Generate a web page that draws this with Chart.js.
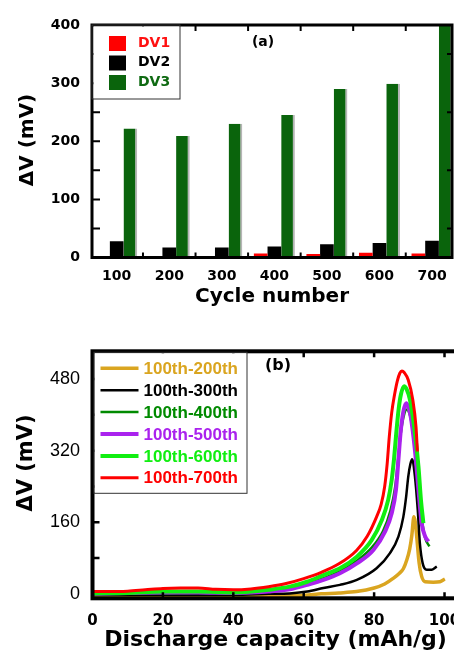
<!DOCTYPE html>
<html>
<head>
<meta charset="utf-8">
<script src="https://cdn.jsdelivr.net/npm/chart.js@4.4.1/dist/chart.umd.min.js"></script>
<style>
  html, body { margin: 0; padding: 0; background: #fff; overflow: hidden; }
  #wrap { position: relative; width: 454px; height: 654px; overflow: hidden; }
  #chartA { position: absolute; left: 0; top: 0; }
  #chartB { position: absolute; left: 0; top: 320px; }
</style>
</head>
<body>
<div id="wrap">
  <canvas id="chartA" width="472" height="320"></canvas>
  <canvas id="chartB" width="490" height="334"></canvas>
</div>
<script>
// (a) voltage gaps per cycle
const cycles = [100, 200, 300, 400, 500, 600, 700];
const dv1 = [0, 2, 2, 7, 6, 8, 7];
const dv2 = [28, 17, 17, 19, 23, 25, 29];
const dv3 = [222, 209, 230, 245, 290, 299, 400];
const yTicksA = [0, 100, 200, 300, 400];

// (b) dV vs discharge capacity
const cap200 = [0, 20, 40, 50, 60, 65, 70, 75, 80, 83, 85.5, 87.2, 88.3, 89.3, 90.1, 90.7, 91.3, 91.7, 92.1, 92.8, 93.5, 94.5, 96.8, 98.7, 100.1];
const dv200 = [-5, -5, -5, -4, -3, 0, 2, 5, 13, 22, 35, 46, 56, 76, 100, 130, 172, 160, 128, 68, 39, 27, 26, 27, 33];
const cap300 = [0, 20, 40, 50, 56, 61, 65.6, 70.3, 75.1, 80.7, 84.5, 86.9, 88.3, 89.1, 89.7, 90.3, 90.8, 91.6, 92.4, 93, 93.8, 94.9, 96.4, 97.8];
const dv300 = [-2, -2, -2, 0, 1, 5, 13, 20, 31, 57, 91, 128, 172, 217, 262, 290, 301, 262, 187, 113, 68, 54, 54, 61];
const cap400 = [0, 20, 30, 40, 45, 50, 56, 61, 65.6, 70.3, 75.1, 79.5, 82.5, 84.6, 86, 86.8, 87.6, 88.5, 89.3, 90, 90.8, 91.8, 92.8, 93.6, 94.5, 95.7];
const dv400 = [0, 1, 2, 1, 2, 6, 12, 22, 35, 50, 74, 105, 140, 185, 240, 300, 360, 400, 412, 404, 375, 310, 230, 165, 125, 106];
const cap500 = [0, 20, 30, 40, 45, 50, 56, 61, 65.6, 70.3, 75.1, 79.8, 83.1, 85, 86.2, 86.9, 87.5, 88.3, 89.1, 89.7, 90.4, 91.6, 92.6, 93.5, 94.5, 95.4];
const dv500 = [0, 3, 3, 2, 3, 5, 10, 20, 31, 46, 68, 98, 139, 180, 232, 299, 359, 407, 426, 418, 396, 321, 232, 158, 128, 117];
const cap600 = [0, 10, 20, 30, 40, 45, 50, 56, 61, 65.6, 70.3, 75.1, 79.3, 82.2, 84, 85, 85.7, 86.3, 87, 87.6, 88.5, 89.2, 90.2, 91.6, 92.6, 93.3, 94];
const dv600 = [1, 2, 5, 5, 3, 5, 9, 16, 27, 42, 57, 83, 120, 165, 210, 255, 305, 360, 415, 445, 464, 458, 433, 359, 284, 210, 158];
const cap700 = [0, 10, 15, 20, 25, 30, 35, 40, 45, 50, 55, 60, 65, 70, 75, 78, 80.7, 82, 83, 83.7, 84.3, 85, 85.8, 86.6, 87.3, 87.9, 88.6, 89.7, 91, 91.9, 92.3];
const dv700 = [5, 6, 9, 12, 13, 13, 10, 9, 11, 16, 23, 34, 48, 67, 97, 128, 172, 200, 240, 290, 350, 405, 445, 476, 493, 498, 494, 478, 433, 373, 318];
const xTicksB = [0, 20, 40, 60, 80, 100];
const yTicksB = [0, 160, 320, 480];

const BOLD = 'DejaVu Sans';
Chart.defaults.color = '#000';
Chart.defaults.animation = false;

function pts(xs, ys) {
  return xs.map((x, i) => ({ x: x, y: ys[i] }));
}

function sideTitle(ctx, text, x, y, size) {
  ctx.save();
  ctx.translate(x, y);
  ctx.rotate(-Math.PI / 2);
  ctx.font = 'bold ' + size + 'px "' + BOLD + '"';
  ctx.fillStyle = '#000';
  ctx.textAlign = 'center';
  ctx.textBaseline = 'middle';
  ctx.fillText(text, 0, 0);
  ctx.restore();
}

// frame, inward ticks and boxed legend for (a)
const decorA = {
  id: 'decorA',
  afterDraw(chart) {
    const { ctx, chartArea: a, scales: { x, y } } = chart;
    ctx.save();
    ctx.strokeStyle = '#000';
    ctx.lineWidth = 2;
    ctx.beginPath();
    for (let v = 50; v < 400; v += 50) {
      const py = y.getPixelForValue(v);
      ctx.moveTo(a.left, py); ctx.lineTo(a.left + 8, py);
      if (v % 100) { ctx.moveTo(a.right, py); ctx.lineTo(a.right - 5, py); }
    }
    for (let v = 150; v < 700; v += 100) {
      const px = x.getPixelForValue(v);
      ctx.moveTo(px, a.top); ctx.lineTo(px, a.top + 6);
      ctx.moveTo(px, a.bottom); ctx.lineTo(px, a.bottom - 5);
    }
    ctx.stroke();
    ctx.lineWidth = 3;
    ctx.strokeRect(a.left, a.top, a.width, a.height);

    // legend box
    ctx.fillStyle = '#fff';
    ctx.fillRect(a.left + 1.5, a.top + 1.5, 86, 72);
    ctx.lineWidth = 1;
    ctx.strokeStyle = '#333';
    ctx.strokeRect(a.left, a.top, 88, 74);
    ctx.font = 'bold 14px "' + BOLD + '"';
    ctx.textBaseline = 'middle';
    chart.data.datasets.forEach((ds, i) => {
      const cy = a.top + 18 + i * 19.5;
      ctx.fillStyle = ds.backgroundColor;
      ctx.fillRect(a.left + 17, cy - 7, 17, 15);
      ctx.fillStyle = ds.labelColor;
      ctx.fillText(ds.label, a.left + 46, cy);
    });
    ctx.fillStyle = '#000';
    ctx.textAlign = 'center';
    ctx.fillText('(a)', 263, 42);
    ctx.restore();
    sideTitle(ctx, 'ΔV (mV)', 28, 140, 20);
  }
};

// frame, inward ticks and boxed legend for (b)
const decorB = {
  id: 'decorB',
  afterDraw(chart) {
    const { ctx, chartArea: a, scales: { x, y } } = chart;
    ctx.save();
    ctx.strokeStyle = '#000';
    ctx.lineWidth = 2.5;
    ctx.beginPath();
    for (let v = 80; v < 540; v += 80) {
      const py = y.getPixelForValue(v);
      ctx.moveTo(a.left, py); ctx.lineTo(a.left + 7, py);
    }
    for (let v = 20; v <= 100; v += 20) {
      const px = x.getPixelForValue(v);
      ctx.moveTo(px, a.top); ctx.lineTo(px, a.top + 6);
      ctx.moveTo(px, a.bottom); ctx.lineTo(px, a.bottom - 6);
    }
    ctx.stroke();
    ctx.lineWidth = 4;
    ctx.strokeRect(a.left, a.top, a.width, a.height);

    // legend box
    ctx.fillStyle = '#fff';
    ctx.fillRect(a.left + 2, a.top + 2, 152, 139);
    ctx.lineWidth = 1;
    ctx.strokeStyle = '#333';
    ctx.strokeRect(a.left + 1.5, a.top + 1, 153, 141);
    ctx.font = 'bold 17px "Liberation Sans"';
    ctx.textBaseline = 'middle';
    chart.data.datasets.forEach((ds, i) => {
      const cy = a.top + 17 + i * 21.9;
      ctx.strokeStyle = ds.borderColor;
      ctx.lineWidth = ds.borderWidth;
      ctx.beginPath();
      ctx.moveTo(a.left + 8, cy); ctx.lineTo(a.left + 46, cy);
      ctx.stroke();
      ctx.fillStyle = ds.borderColor;
      ctx.fillText(ds.label, a.left + 51, cy + 1);
    });
    ctx.fillStyle = '#000';
    ctx.textAlign = 'center';
    ctx.font = 'bold 16px "' + BOLD + '"';
    ctx.fillText('(b)', 278, 46);
    ctx.restore();
    sideTitle(ctx, 'ΔV (mV)', 27, 143, 21);
  }
};

new Chart(document.getElementById('chartA'), {
  type: 'bar',
  data: {
    datasets: [
      { label: 'DV1', data: pts(cycles, dv1), backgroundColor: '#ff0000', labelColor: '#ff1010' },
      { label: 'DV2', data: pts(cycles, dv2), backgroundColor: '#000000', labelColor: '#000000' },
      { label: 'DV3', data: pts(cycles, dv3), backgroundColor: '#0a640c', labelColor: '#0f6a12',
        borderColor: '#b5b5b5', borderWidth: { top: 0, left: 0, bottom: 0, right: 2 } }
    ]
  },
  options: {
    responsive: false,
    categoryPercentage: 0.78,
    barPercentage: 1,
    layout: { padding: { left: 0, right: 20, top: 25, bottom: 0 } },
    plugins: { legend: { display: false }, tooltip: { enabled: false } },
    scales: {
      x: {
        type: 'linear', min: 53, max: 738, offset: false,
        grid: { display: false, drawTicks: false, offset: false },
        border: { display: false },
        afterBuildTicks: s => { s.ticks = cycles.map(v => ({ value: v })); },
        afterFit: s => { s.height = 62.5; },
        ticks: { padding: 10, font: { family: BOLD, size: 14, weight: 'bold' } },
        title: { display: true, text: 'Cycle number', padding: { top: 0, bottom: 11 },
                 font: { family: BOLD, size: 20, weight: 'bold' } }
      },
      y: {
        min: 0, max: 400,
        grid: { display: false, drawTicks: false },
        border: { display: false },
        afterBuildTicks: s => { s.ticks = yTicksA.map(v => ({ value: v })); },
        afterFit: s => { s.width = 92; },
        ticks: { padding: 12, font: { family: BOLD, size: 14, weight: 'bold' } }
      }
    }
  },
  plugins: [decorA]
});

const series = [
  { label: '100th-200th', cap: cap200, dv: dv200, color: '#daa520', width: 3.5 },
  { label: '100th-300th', cap: cap300, dv: dv300, color: '#000000', width: 2.5 },
  { label: '100th-400th', cap: cap400, dv: dv400, color: '#008a00', width: 2.5 },
  { label: '100th-500th', cap: cap500, dv: dv500, color: '#aa22ee', width: 4 },
  { label: '100th-600th', cap: cap600, dv: dv600, color: '#11ee11', width: 4 },
  { label: '100th-700th', cap: cap700, dv: dv700, color: '#ff0000', width: 3 }
];

new Chart(document.getElementById('chartB'), {
  type: 'line',
  data: {
    datasets: series.map((s, i) => ({
      label: s.label,
      data: pts(s.cap, s.dv),
      borderColor: s.color,
      borderWidth: s.width,
      pointRadius: 0,
      cubicInterpolationMode: 'monotone',
      order: 6 - i
    }))
  },
  options: {
    responsive: false,
    layout: { padding: { left: 0, right: 31.4, top: 31.3, bottom: 0 } },
    plugins: { legend: { display: false }, tooltip: { enabled: false } },
    scales: {
      x: {
        type: 'linear', min: 0, max: 104,
        grid: { display: false, drawTicks: false },
        border: { display: false },
        afterBuildTicks: s => { s.ticks = xTicksB.map(v => ({ value: v })); },
        afterFit: s => { s.height = 55.7; },
        ticks: { padding: 14, font: { family: BOLD, size: 15, weight: 'bold' } },
        title: { display: true, text: 'Discharge capacity (mAh/g)', padding: { top: 0, bottom: 1 },
                 font: { family: BOLD, size: 22, weight: 'bold' } }
      },
      y: {
        min: -10, max: 542,
        grid: { display: false, drawTicks: false },
        border: { display: false },
        afterBuildTicks: s => { s.ticks = yTicksB.map(v => ({ value: v })); },
        afterFit: s => { s.width = 92.5; },
        ticks: { padding: 12.5, font: { family: 'Liberation Sans', size: 18 } }
      }
    }
  },
  plugins: [decorB]
});
</script>
</body>
</html>
